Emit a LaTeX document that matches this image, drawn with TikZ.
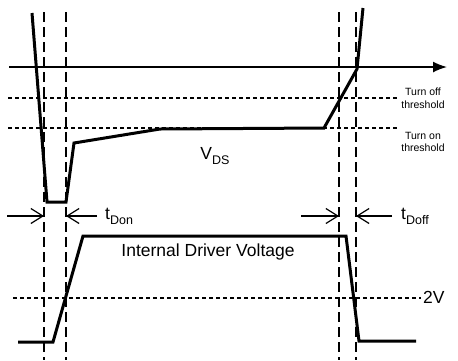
\documentclass[tikz,border=0pt]{standalone}
\usepackage{fontspec}
\setmainfont{Liberation Sans}
\usetikzlibrary{arrows.meta,positioning,calc}
\newcommand{\lowidx}[1]{\raisebox{-0.28em}{\fontsize{12.5}{13}\selectfont #1}}

\begin{document}
\begin{tikzpicture}[
    x=1pt, y=-1pt,
    wave/.style={line width=3pt, line join=miter},
    guide/.style={line width=1.5pt, dash pattern=on 10pt off 5pt},
    level/.style={line width=1.3pt, dash pattern=on 4pt off 3pt},
    axis/.style={line width=1.6pt, -{Latex[length=14pt,width=11pt]}},
    timing/.style={line width=1.1pt, -{Straight Barb[length=12pt,width=15pt,line width=1.2pt]}},
    note/.style={font=\fontsize{10.5}{12.5}\selectfont, align=center, inner sep=0pt},
    label/.style={font=\fontsize{17.5}{19}\selectfont, inner sep=0pt}
]
\useasboundingbox (0,0) rectangle (458,360);

% time markers
\coordinate (onA) at (44,12);
\coordinate (onB) at (66,12);
\coordinate (offA) at (339,12);
\coordinate (offB) at (356,12);
\foreach \c in {onA,onB,offA,offB}
  \draw[guide] (\c) -- (\c |- 0,360);

% horizontal axis
\coordinate (axisL) at (9,67);
\coordinate (axisR) at (447,67);
\draw[axis] (axisL) -- (axisR);

% thresholds
\node[note] (offTh) at (423,98) {Turn off\\threshold};
\node[note] (onTh) at (423,142) {Turn on\\threshold};
\draw[level] (8,98) -- (397,98);
\draw[level] (8,128) -- (397,128);

% V_DS
\draw[wave] (32,13) -- (47,202) -- (66,202) -- (74,143) -- (160,129)
  -- (324,128) -- (357,69) -- (363,8);
\node[label] (vds) at (215,156) {V\lowidx{DS}};

% timing arrows
\node[label, anchor=west] (tDon) at (105,216) {t\lowidx{Don}};
\node[label, anchor=west] (tDoff) at (401,216) {t\lowidx{Doff}};
\coordinate (donL) at (7,216);
\coordinate (doffL) at (301,216);
\draw[timing] (donL) -- (onA |- donL);
\draw[timing] ([xshift=-8pt]tDon.west) -- (onB |- donL);
\draw[timing] (doffL) -- (offA |- doffL);
\draw[timing] ([xshift=-9pt]tDoff.west) -- (offB |- doffL);

% driver voltage
\draw[level] (13,298) -- (421,298);
\node[label, anchor=west] (twoV) at (423,297) {2V};
\draw[wave] (18,342) -- (53,342) -- (83,236) -- (346,236) -- (359,341) -- (416,341);
\node[label] (drv) at (208,252) {Internal Driver Voltage};

\end{tikzpicture}
\end{document}
